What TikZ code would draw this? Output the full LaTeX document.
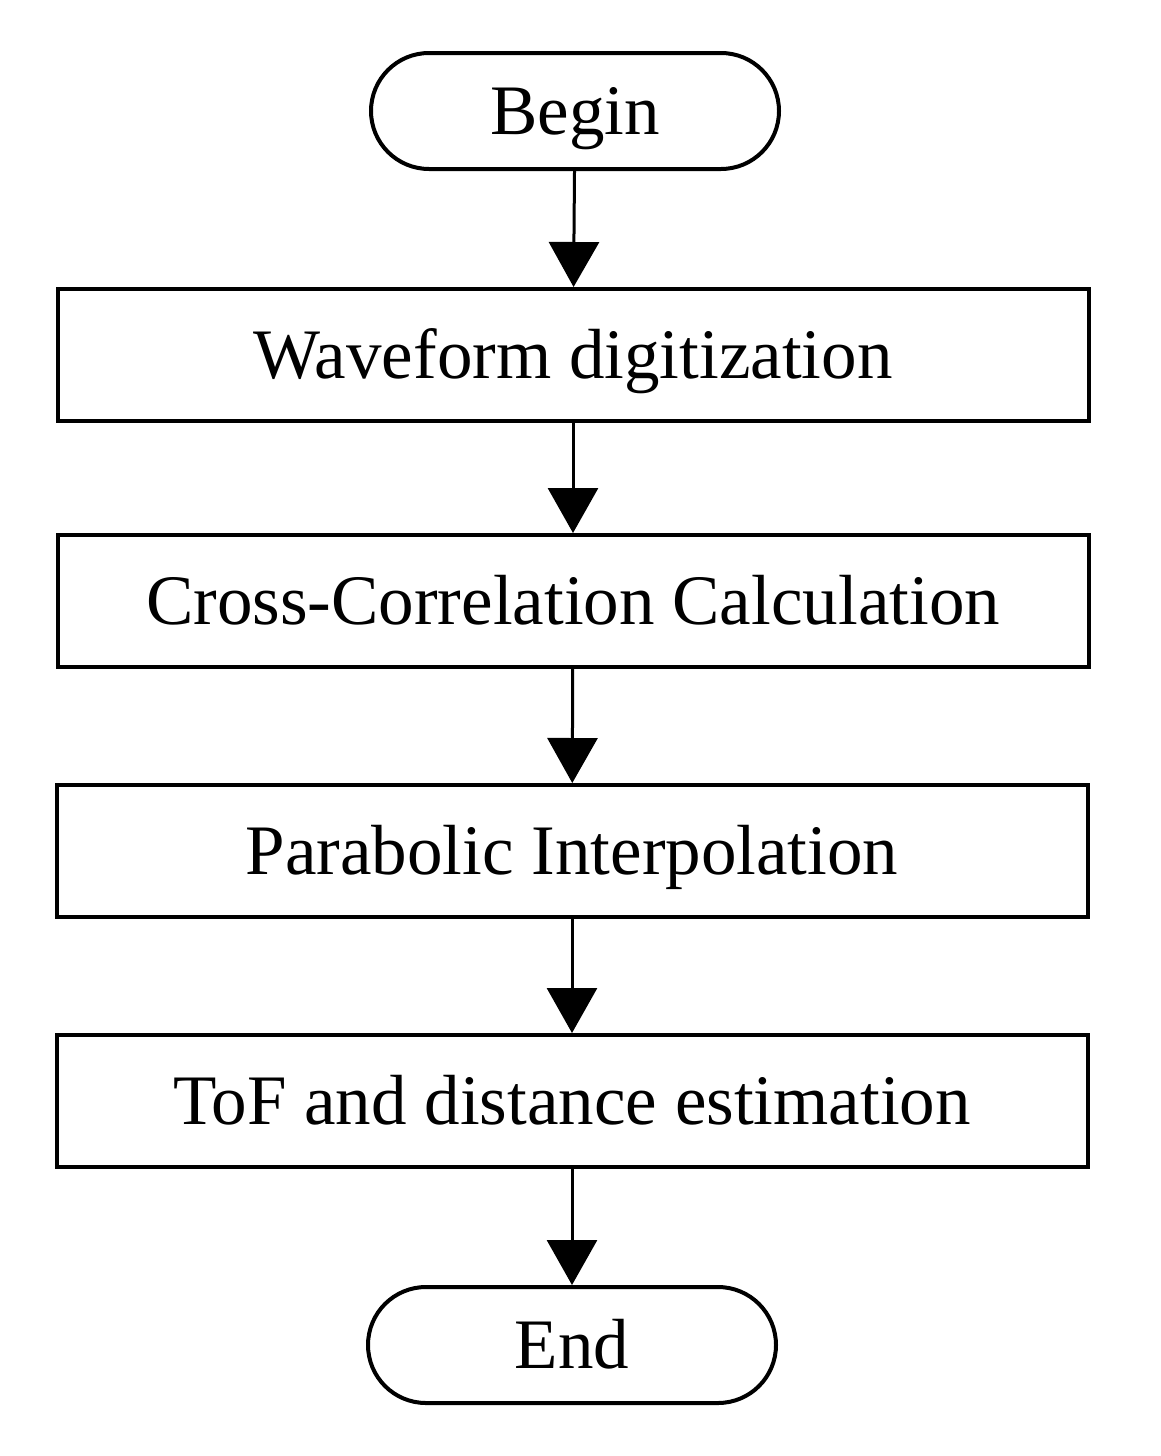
\documentclass[tikz,border=0pt]{standalone}
\usepackage{fontspec}
\setmainfont{Liberation Serif}
\usetikzlibrary{arrows.meta}
\begin{document}
\begin{tikzpicture}[x=1pt,y=-1pt,
  txt/.style={inner sep=0pt,font=\fontsize{71}{80}\selectfont,text height=47pt,text depth=0pt},
  box/.style={draw,line width=4pt,minimum width=1031pt,minimum height=132pt,txt},
  term/.style={draw,line width=4pt,rounded corners=58pt,minimum width=408pt,minimum height=116pt,txt},
  arr/.style={line width=3pt,-{Triangle[width=50pt,length=45pt]}}]
\useasboundingbox (0,0) rectangle (1160,1456);
\node[term] (b) at (575,111) {Begin};
\node[box] (w) at (573,355) {Waveform digitization};
\node[box] (c) at (573,601) {Cross-Correlation Calculation};
\node[box] (p) at (572,851) {Parabolic Interpolation};
\node[box] (t) at (572,1101) {ToF and distance estimation};
\node[term] (e) at (572,1345) {End};
\draw[arr] (b) -- (w);
\draw[arr] (w) -- (c);
\draw[arr] (c) -- (p);
\draw[arr] (p) -- (t);
\draw[arr] (t) -- (e);
\end{tikzpicture}
\end{document}
